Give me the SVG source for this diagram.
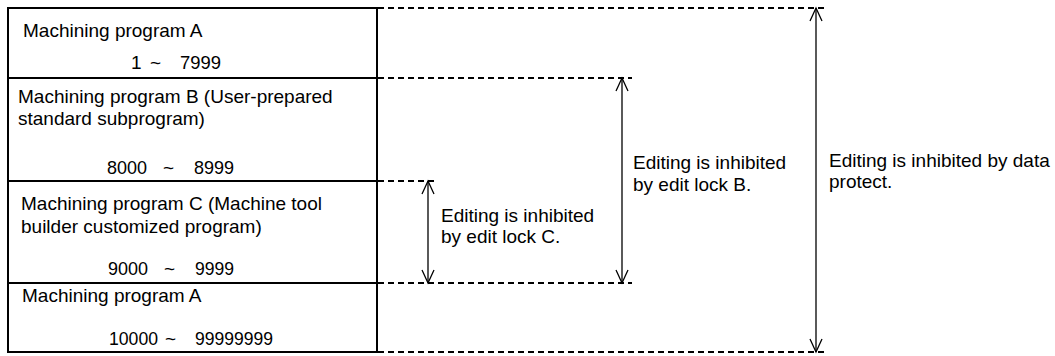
<svg xmlns="http://www.w3.org/2000/svg" width="1055" height="356" viewBox="0 0 1055 356">
<style>
text{font-family:"Liberation Sans",Arial,sans-serif;font-size:19px;fill:#000}
.num{font-size:19px}
.box{fill:none;stroke:#000;stroke-width:2}
.dash{stroke:#000;stroke-width:2;stroke-dasharray:6 4;fill:none}
.arr{stroke:#000;stroke-width:1.3;fill:none}
</style>
<rect width="1055" height="356" fill="#fff"/>
<g id="prog-a1">
<rect class="box" x="8" y="8" width="369" height="70"/>
<text x="23" y="37">Machining program A</text>
<text class="num" x="131" y="69">1</text>
<text x="150" y="69">~</text>
<text class="num" x="180" y="69" textLength="41" lengthAdjust="spacingAndGlyphs">7999</text>
</g>
<g id="prog-b">
<rect class="box" x="8" y="78" width="369" height="103"/>
<text x="18" y="103">Machining program B (User-prepared</text>
<text x="18" y="125">standard subprogram)</text>
<text class="num" x="107" y="174" textLength="40" lengthAdjust="spacingAndGlyphs">8000</text>
<text x="163" y="174">~</text>
<text class="num" x="194" y="174" textLength="40" lengthAdjust="spacingAndGlyphs">8999</text>
</g>
<g id="prog-c">
<rect class="box" x="8" y="181" width="369" height="102"/>
<text x="21" y="210">Machining program C (Machine tool</text>
<text x="21" y="233">builder customized program)</text>
<text class="num" x="108" y="275" textLength="40" lengthAdjust="spacingAndGlyphs">9000</text>
<text x="164" y="275">~</text>
<text class="num" x="195" y="275" textLength="39" lengthAdjust="spacingAndGlyphs">9999</text>
</g>
<g id="prog-a2">
<rect class="box" x="8" y="283" width="369" height="69"/>
<text x="22" y="302">Machining program A</text>
<text class="num" x="109" y="345" textLength="49" lengthAdjust="spacingAndGlyphs">10000</text>
<text x="165" y="345">~</text>
<text class="num" x="195" y="345" textLength="78" lengthAdjust="spacingAndGlyphs">99999999</text>
</g>
<g id="connectors">
<line class="dash" x1="378" y1="8" x2="827" y2="8"/>
<line class="dash" x1="378" y1="78" x2="632" y2="78"/>
<line class="dash" x1="378" y1="181" x2="437" y2="181"/>
<line class="dash" x1="378" y1="283" x2="632" y2="283"/>
<line class="dash" x1="378" y1="352" x2="827" y2="352"/>
<line class="arr" x1="428" y1="181" x2="428" y2="283"/>
<path class="arr" d="M422 194 L428 181 L434 194 M422 270 L428 283 L434 270"/>
<line class="arr" x1="622" y1="78" x2="622" y2="283"/>
<path class="arr" d="M616 91 L622 78 L628 91 M616 270 L622 283 L628 270"/>
<line class="arr" x1="816" y1="8" x2="816" y2="352"/>
<path class="arr" d="M810 21 L816 8 L822 21 M810 339 L816 352 L822 339"/>
</g>
<g id="label-c">
<text x="441" y="222">Editing is inhibited</text>
<text x="441" y="243">by edit lock C.</text>
</g>
<g id="label-b">
<text x="633" y="169">Editing is inhibited</text>
<text x="633" y="191">by edit lock B.</text>
</g>
<g id="label-data">
<text x="829" y="167">Editing is inhibited by data</text>
<text x="829" y="188">protect.</text>
</g>
</svg>
